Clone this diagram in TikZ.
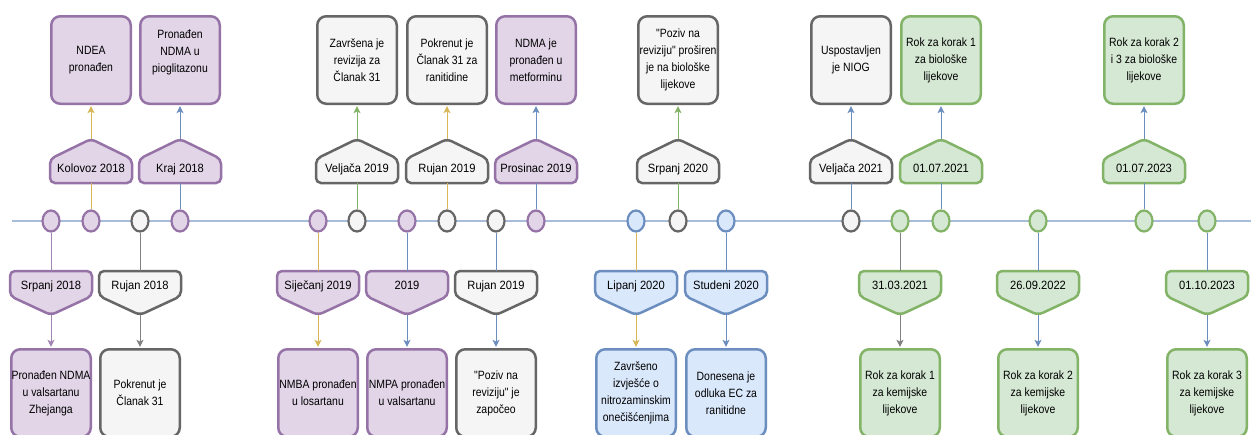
\documentclass[tikz,border=0pt]{standalone}
\usepackage{fontspec}
\setmainfont{Liberation Sans}
\newfontfamily\boxfont[FakeStretch=0.87]{Liberation Sans}
\newfontfamily\labfont[FakeStretch=0.93]{Liberation Sans}
\usetikzlibrary{shapes.geometric,arrows.meta}
\definecolor{pfill}{HTML}{E1D5E7}\definecolor{pline}{HTML}{9673A6}
\definecolor{gfill}{HTML}{F5F5F5}\definecolor{gline}{HTML}{666666}
\definecolor{bfill}{HTML}{DAE8FC}\definecolor{bline}{HTML}{6C8EBF}
\definecolor{efill}{HTML}{D5E8D4}\definecolor{eline}{HTML}{82B366}
\definecolor{cyel}{HTML}{D6B656}\definecolor{cblue}{HTML}{6C8EBF}
\definecolor{cgreen}{HTML}{82B366}\definecolor{cgray}{HTML}{808080}
\definecolor{cpurp}{HTML}{A385B5}\definecolor{tline}{HTML}{A8BDD9}
\tikzset{
 purplec/.style={draw=pline,fill=pfill},
 grayc/.style={draw=gline,fill=gfill},
 bluec/.style={draw=bline,fill=bfill},
 greenc/.style={draw=eline,fill=efill},
 dot/.style={ellipse,minimum width=17pt,minimum height=21pt,inner sep=0pt,line width=2.2pt},
 box/.style={rectangle,rounded corners=9pt,minimum width=79.5pt,minimum height=87.5pt,line width=2.5pt,align=center,inner sep=0pt,font=\boxfont\fontsize{12}{17}\selectfont},
 lab/.style={line width=2.5pt,rounded corners=5pt},
 labtext/.style={font=\labfont\fontsize{12}{14}\selectfont,inner sep=0pt,anchor=base},
 conn/.style={line width=1pt,draw=#1},
 arr/.style={line width=1pt,draw=#1,fill=#1,-{Stealth[length=7pt,width=7pt,inset=1.8pt]},shorten >=1.2pt},
 tl/.style={line width=2pt,draw=tline}
}
% #1 name, #2 x, #3 colour style, #4 label, #5 box text, #6 connector colour
\newcommand\evup[6]{%
 \node[dot,#3] (#1c) at (#2,221) {};
 \path[lab,#3] ({#2-41},183) -- ({#2-41},159) -- (#2,139) -- ({#2+41},159) -- ({#2+41},183) -- cycle;
 \node[labtext] (#1l) at (#2,172) {#4};
 \coordinate (#1la) at (#2,139);
 \coordinate (#1lb) at (#2,183);
 \node[box,#3] (#1b) at (#2,60) {#5};
 \draw[conn=#6] (#1c.north) -- (#1lb);
 \draw[arr=#6] (#1la) -- (#1b.south);
}
\newcommand\evdown[6]{%
 \node[dot,#3] (#1c) at (#2,221) {};
 \path[lab,#3] ({#2-41},271) -- ({#2-41},296) -- (#2,315) -- ({#2+41},296) -- ({#2+41},271) -- cycle;
 \node[labtext] (#1l) at (#2,289) {#4};
 \coordinate (#1la) at (#2,315);
 \coordinate (#1lb) at (#2,271);
 \node[box,#3] (#1b) at (#2,393) {#5};
 \draw[conn=#6] (#1c.south) -- (#1lb);
 \draw[arr=#6] (#1la) -- (#1b.north);
}
\begin{document}
\begin{tikzpicture}[x=1pt,y=-1pt]
\useasboundingbox (0,0) rectangle (1251,434);
\fill[white] (0,0) rectangle (1251,434);
\coordinate (tlstart) at (12,221);
\coordinate (tlend) at (1251,221);
\draw[tl] (tlstart) -- (tlend);
% upper events
\evup{a}{91}{purplec}{Kolovoz 2018}{NDEA\\pronađen}{cyel}
\evup{b}{180}{purplec}{Kraj 2018}{Pronađen\\NDMA u\\pioglitazonu\\\mbox{}}{cblue}
\evup{c}{357}{grayc}{Veljača 2019}{Završena je\\revizija za\\Članak 31}{cgreen}
\evup{d}{447}{grayc}{Rujan 2019}{Pokrenut je\\Članak 31 za\\ranitidine}{cyel}
\evup{e}{536}{purplec}{Prosinac 2019}{NDMA je\\pronađen u\\metforminu}{cblue}
\evup{f}{678}{grayc}{Srpanj 2020}{"Poziv na\\reviziju" proširen\\je na biološke\\lijekove}{cgreen}
\evup{g}{851}{grayc}{Veljača 2021}{Uspostavljen\\je NIOG}{cblue}
\evup{h}{941}{greenc}{01.07.2021}{Rok za korak 1\\za biološke\\lijekove}{cblue}
\evup{i}{1144}{greenc}{01.07.2023}{Rok za korak 2\\i 3 za biološke\\lijekove}{cblue}
% lower events
\evdown{p}{51}{purplec}{Srpanj 2018}{Pronađen NDMA\\u valsartanu\\Zhejanga}{cpurp}
\evdown{q}{140}{grayc}{Rujan 2018}{Pokrenut je\\Članak 31}{cgray}
\evdown{r}{318}{purplec}{Siječanj 2019}{NMBA pronađen\\u losartanu}{cyel}
\evdown{s}{407}{purplec}{2019}{NMPA pronađen\\u valsartanu}{cblue}
\evdown{t}{496}{grayc}{Rujan 2019}{"Poziv na\\reviziju" je\\započeo}{cblue}
\evdown{u}{636}{bluec}{Lipanj 2020}{Završeno\\izvješće o\\nitrozaminskim\\onečišćenjima}{cyel}
\evdown{v}{726}{bluec}{Studeni 2020}{Donesena je\\odluka EC za\\ranitidne}{cblue}
\evdown{w}{900}{greenc}{31.03.2021}{Rok za korak 1\\za kemijske\\lijekove}{cgray}
\evdown{x}{1038}{greenc}{26.09.2022}{Rok za korak 2\\za kemijske\\lijekove}{cblue}
\evdown{y}{1207}{greenc}{01.10.2023}{Rok za korak 3\\za kemijske\\lijekove}{cblue}
\end{tikzpicture}
\end{document}
